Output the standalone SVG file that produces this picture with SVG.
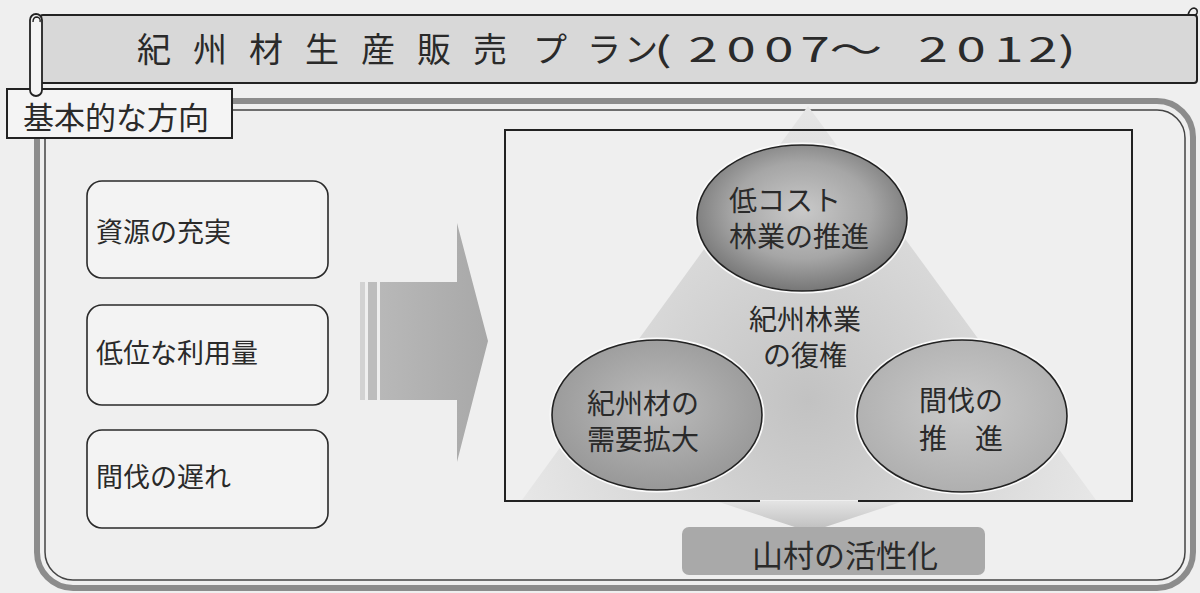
<svg xmlns="http://www.w3.org/2000/svg" width="1200" height="593" viewBox="0 0 1200 593">
  <defs>
    <style>
      text { font-family: 'Noto Sans CJK JP', 'Noto Sans', sans-serif; fill: #2a2a2a; }
      .lbl { font-size: 27px; }
      .ell { font-size: 28px; }
      .box { fill: #f3f3f3; stroke: #2a2a2a; stroke-width: 1.6; }
      .ellipse { stroke: #222; stroke-width: 1.6; }
      .halo { fill: none; stroke: #fafafa; stroke-width: 5; }
    </style>
    <radialGradient id="gTop" cx="0.5" cy="0.45" r="0.6">
      <stop offset="0" stop-color="#c9c9c9"/>
      <stop offset="0.55" stop-color="#a6a6a6"/>
      <stop offset="1" stop-color="#6c6c6c"/>
    </radialGradient>
    <radialGradient id="gLeft" cx="0.5" cy="0.45" r="0.6">
      <stop offset="0" stop-color="#bcbcbc"/>
      <stop offset="1" stop-color="#959595"/>
    </radialGradient>
    <radialGradient id="gRight" cx="0.5" cy="0.45" r="0.6">
      <stop offset="0" stop-color="#cacaca"/>
      <stop offset="1" stop-color="#adadad"/>
    </radialGradient>
    <radialGradient id="gPyr" cx="808" cy="400" r="320" gradientUnits="userSpaceOnUse">
      <stop offset="0" stop-color="#c2c2c2"/>
      <stop offset="0.55" stop-color="#d8d8d8"/>
      <stop offset="1" stop-color="#e9e9e9"/>
    </radialGradient>
    <linearGradient id="gWedge" x1="0" y1="0" x2="0" y2="1">
      <stop offset="0" stop-color="#e4e4e4"/>
      <stop offset="1" stop-color="#bcbcbc"/>
    </linearGradient>
    <linearGradient id="gArrow" x1="0" y1="0" x2="1" y2="0">
      <stop offset="0" stop-color="#b8b8b8"/>
      <stop offset="1" stop-color="#a8a8a8"/>
    </linearGradient>
  </defs>

  <rect width="1200" height="593" fill="#efefef"/>

  <!-- title banner -->
  <g id="title">
    <rect x="40" y="15" width="1157" height="68" rx="3" fill="#d8d8d8" stroke="#222" stroke-width="2"/>
    <path d="M1188,15 Q1190,8 1194,8 Q1198,9 1197,13 Q1196,16 1193,15" fill="none" stroke="#222" stroke-width="1.6"/>
    <text font-size="34" y="62" x="137 193 249 305 361 417 473 533 587 624">紀州材生産販売プラン</text>
    <text font-size="34" transform="translate(654,62) scale(1.55,1)" y="0" x="0 22.2 46.7 71.2 94.5 113.3 170.6 195.1 219.6 241.5 260.6">(2007～2012)</text>
  </g>

  <!-- outer panel -->
  <g id="panel">
    <rect x="37" y="101" width="1156" height="487" rx="36" fill="none" stroke="#8c8c8c" stroke-width="6"/>
    <rect x="45" y="110" width="1140" height="470" rx="28" fill="none" stroke="#444" stroke-width="1.5"/>
  </g>

  <g id="label-kihon">
    <rect x="7" y="89" width="225" height="49" fill="#f4f4f4" stroke="#222" stroke-width="2"/>
    <text x="23" y="129" font-size="31">基本的な方向</text>
    <rect x="30" y="14" width="12" height="82" rx="6" fill="#f4f4f4" stroke="#222" stroke-width="1.8"/>
    <path d="M33,22 Q33,17 37,17 Q41,18 40,22" fill="none" stroke="#222" stroke-width="1.4"/>
  </g>

  <!-- left nodes -->
  <g id="node-shigen">
    <rect class="box" x="87" y="181" width="241" height="97" rx="15"/>
    <text class="lbl" x="96" y="242">資源の充実</text>
  </g>
  <g id="node-teii">
    <rect class="box" x="87" y="305" width="241" height="100" rx="15"/>
    <text class="lbl" x="96" y="363">低位な利用量</text>
  </g>
  <g id="node-kanbatsu">
    <rect class="box" x="87" y="430" width="241" height="98" rx="15"/>
    <text class="lbl" x="96" y="487">間伐の遅れ</text>
  </g>

  <!-- pyramid background -->
  <g id="pyramid">
    <polygon points="808,106 522,500 1096,500" fill="url(#gPyr)"/>
  </g>

  <!-- connectors -->
  <g id="connectors">
    <rect x="360" y="282" width="5" height="118" fill="#d2d2d2"/>
    <rect x="368" y="282" width="9" height="118" fill="#bdbdbd"/>
    <path d="M380,282 H457 V223 L488,341 L457,462 V400 H380 Z" fill="url(#gArrow)"/>
    <polygon points="716,501 904,501 810,532" fill="url(#gWedge)"/>
  </g>

  <!-- inner box -->
  <g id="inner-box">
    <path d="M760,501 H505 V130 H1132 V501 H858" fill="none" stroke="#222" stroke-width="2"/>
  </g>

  <g id="node-lowcost">
    <ellipse class="halo" cx="802" cy="218" rx="105" ry="73"/>
    <ellipse class="ellipse" cx="802" cy="218" rx="105" ry="73" fill="url(#gTop)"/>
    <text class="ell" font-size="27.5"><tspan x="729" y="211">低コスト</tspan><tspan x="729" y="247">林業の推進</tspan></text>
  </g>

  <g id="node-center">
    <text class="ell" text-anchor="middle"><tspan x="805" y="330">紀州林業</tspan><tspan x="805" y="366">の復権</tspan></text>
  </g>

  <g id="node-demand">
    <ellipse class="halo" cx="657" cy="415" rx="105" ry="75"/>
    <ellipse class="ellipse" cx="657" cy="415" rx="105" ry="75" fill="url(#gLeft)"/>
    <text class="ell"><tspan x="587" y="414">紀州材の</tspan><tspan x="587" y="450">需要拡大</tspan></text>
  </g>

  <g id="node-thinning">
    <ellipse class="halo" cx="962" cy="416" rx="105" ry="76"/>
    <ellipse class="ellipse" cx="962" cy="416" rx="105" ry="76" fill="url(#gRight)"/>
    <text class="ell"><tspan x="919" y="411">間伐の</tspan><tspan x="919" y="449">推　進</tspan></text>
  </g>

  <g id="node-sanson">
    <rect x="682" y="527" width="303" height="48" rx="7" fill="#a9a9a9"/>
    <text x="845" y="567" font-size="31" text-anchor="middle">山村の活性化</text>
  </g>
</svg>
